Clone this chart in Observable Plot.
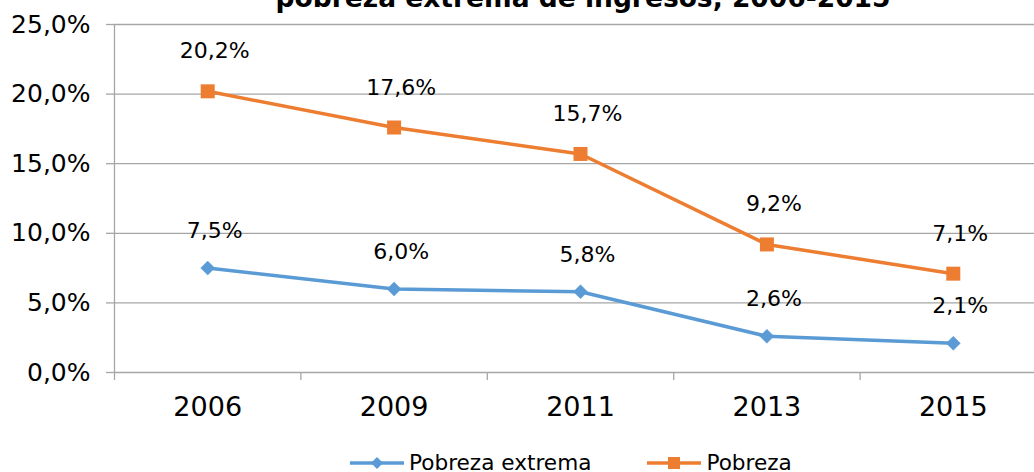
<!DOCTYPE html>
<html><head><meta charset="utf-8">
<script src="https://cdn.jsdelivr.net/npm/d3@7"></script>
<script src="https://cdn.jsdelivr.net/npm/@observablehq/plot@0.6"></script>
<style>
body{margin:0;background:#fff;}
#wrap{position:relative;width:1034px;height:472px;overflow:hidden;font-family:"DejaVu Sans",Verdana,sans-serif;background:#fff;}
#title{position:absolute;left:83px;width:1000px;top:-18px;text-align:center;font-weight:bold;font-size:26.5px;color:#000;white-space:nowrap;}
#chart{position:absolute;left:0;top:0;}
#legend{position:absolute;top:451px;left:350px;display:flex;gap:56px;font-size:21.6px;line-height:24px;color:#000;}
.item{display:flex;align-items:center;gap:5px;white-space:nowrap;}
</style>
</head><body>
<div id="wrap">
  <div id="chart"></div>
  <div id="title"></div>
  <div id="legend"></div>
</div>
<script>
const titleText = "pobreza extrema de ingresos, 2006-2015";
const years = ["2006", "2009", "2011", "2013", "2015"];
const pobrezaExtrema = [7.5, 6.0, 5.8, 2.6, 2.1];
const pobreza = [20.2, 17.6, 15.7, 9.2, 7.1];
const yTicks = [0, 5, 10, 15, 20, 25];
const seriesNames = ["Pobreza extrema", "Pobreza"];
const seriesColors = ["#5B9BD5", "#ED7D31"];

const fmt = v => v.toFixed(1).replace(".", ",") + "%";
const ext = years.map((y, i) => ({i, year: y, value: pobrezaExtrema[i], series: seriesNames[0]}));
const pob = years.map((y, i) => ({i, year: y, value: pobreza[i], series: seriesNames[1]}));
const boundaries = years.slice(0, -1).map((y, i) => i - 0.5).concat([years.length - 1.5]);

document.getElementById("title").textContent = titleText;

const grid = "#a6a6a6";
const chart = Plot.plot({
  width: 1034,
  height: 440,
  marginLeft: 114,
  marginRight: -12,
  marginTop: 24,
  marginBottom: 68,
  style: {fontFamily: "DejaVu Sans, Verdana, sans-serif", color: "#000", background: "#fff"},
  x: {type: "linear", domain: [-0.5, years.length - 0.5]},
  y: {domain: [0, 25]},
  color: {domain: seriesNames, range: seriesColors},
  marks: [
    Plot.ruleY(yTicks, {stroke: grid, strokeWidth: 1.3}),
    Plot.ruleX([-0.5], {stroke: grid, strokeWidth: 1.3}),
    Plot.axisY(yTicks, {tickSize: 8, tickPadding: 16, tickFormat: fmt, fontSize: 25, stroke: grid, strokeWidth: 1.3, label: null}),
    Plot.axisX(boundaries, {tickSize: 8, tickFormat: () => "", stroke: grid, strokeWidth: 1.3, label: null}),
    Plot.axisX(d3.range(years.length), {tickSize: 0, tickPadding: 24, tickFormat: i => years[i], fontSize: 27, label: null}),
    Plot.line(ext, {x: "i", y: "value", stroke: "series", strokeWidth: 3.5}),
    Plot.line(pob, {x: "i", y: "value", stroke: "series", strokeWidth: 3.5}),
    Plot.dot(ext, {x: "i", y: "value", symbol: "diamond2", r: 6.3, fill: "series", stroke: "series", strokeWidth: 0.5}),
    Plot.dot(pob, {x: "i", y: "value", symbol: "square", r: 7.9, fill: "series", stroke: "none"}),
    Plot.text(pob, {x: "i", y: "value", text: d => fmt(d.value), dy: -40, dx: 7, fontSize: 22, fill: "#000"}),
    Plot.text(ext, {x: "i", y: "value", text: d => fmt(d.value), dy: -37, dx: 7, fontSize: 22, fill: "#000"})
  ]
});
document.getElementById("chart").appendChild(chart);

const legend = document.getElementById("legend");
seriesNames.forEach((name, k) => {
  const item = document.createElement("div");
  item.className = "item";
  const marker = k === 0
    ? `<path d="M27,2 L33,8 L27,14 L21,8 Z" fill="${seriesColors[k]}"/>`
    : `<rect x="21" y="2" width="12" height="12" fill="${seriesColors[k]}"/>`;
  item.innerHTML = `<svg width="54" height="16"><line x1="0" y1="8" x2="54" y2="8" stroke="${seriesColors[k]}" stroke-width="3.5"/>${marker}</svg><span>${name}</span>`;
  legend.appendChild(item);
});
</script>
</body></html>
